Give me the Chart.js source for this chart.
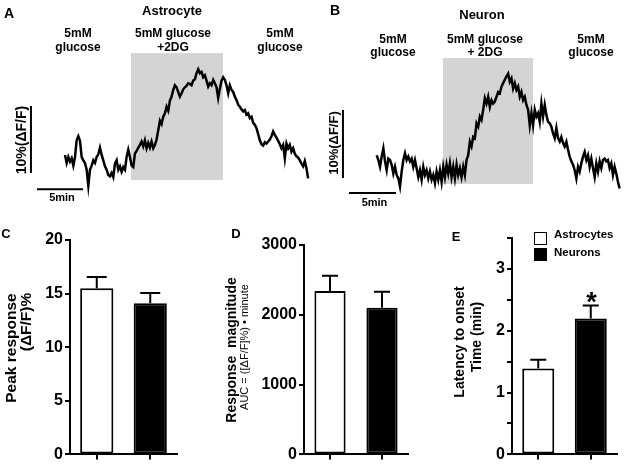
<!DOCTYPE html>
<html>
<head>
<meta charset="utf-8">
<script src="https://cdn.jsdelivr.net/npm/chart.js@4.4.1/dist/chart.umd.min.js"></script>
<style>
body { margin: 0; background: #fff; }
#fig { position: relative; width: 624px; height: 466px; overflow: hidden; background: #fff;
  font-family: "Liberation Sans", Arial, sans-serif; font-weight: bold; color: #000; }
#fig canvas { position: absolute; }
.t { position: absolute; transform: translate(-50%, -50%); white-space: pre; line-height: 1; }
.l { position: absolute; transform: translate(0, -50%); white-space: pre; line-height: 1; }
.v { position: absolute; transform: translate(-50%, -50%) rotate(-90deg); white-space: pre; line-height: 1; }
.box { position: absolute; width: 13px; height: 13px; box-sizing: border-box; border: 1.5px solid #000; }
</style>
</head>
<body>
<div id="fig">
  <canvas id="traceA" width="320" height="200" style="left:0;top:0"></canvas>
  <canvas id="traceB" width="304" height="220" style="left:320px;top:0"></canvas>
  <canvas id="peak" width="200" height="246" style="left:0;top:220px"></canvas>
  <canvas id="auc" width="220" height="246" style="left:200px;top:220px"></canvas>
  <canvas id="latency" width="204" height="246" style="left:420px;top:220px"></canvas>

  <!-- A -->
  <div class="t" style="left:9px;top:13px;font-size:14px">A</div>
  <div class="t" style="left:172px;top:10px;font-size:13px">Astrocyte</div>
  <div class="t" style="left:78px;top:32.5px;font-size:12px">5mM</div>
  <div class="t" style="left:78px;top:46.5px;font-size:12px">glucose</div>
  <div class="t" style="left:173px;top:32.5px;font-size:12px">5mM glucose</div>
  <div class="t" style="left:173px;top:46.5px;font-size:12px">+2DG</div>
  <div class="t" style="left:280px;top:32.5px;font-size:12px">5mM</div>
  <div class="t" style="left:280px;top:46.5px;font-size:12px">glucose</div>
  <div class="v" style="left:21px;top:140px;font-size:14px">10%(ΔF/F)</div>
  <div class="t" style="left:62px;top:197px;font-size:11px">5min</div>

  <!-- B -->
  <div class="t" style="left:335px;top:10px;font-size:14px">B</div>
  <div class="t" style="left:482px;top:14px;font-size:13px">Neuron</div>
  <div class="t" style="left:393px;top:38.5px;font-size:12px">5mM</div>
  <div class="t" style="left:393px;top:52px;font-size:12px">glucose</div>
  <div class="t" style="left:485px;top:38.5px;font-size:12px">5mM glucose</div>
  <div class="t" style="left:485px;top:52px;font-size:12px">+ 2DG</div>
  <div class="t" style="left:591px;top:38.5px;font-size:12px">5mM</div>
  <div class="t" style="left:591px;top:52px;font-size:12px">glucose</div>
  <div class="v" style="left:333px;top:142.5px;font-size:13px">10%(ΔF/F)</div>
  <div class="t" style="left:374.5px;top:202px;font-size:11px">5min</div>

  <!-- C -->
  <div class="t" style="left:6px;top:233px;font-size:13px">C</div>
  <div class="v" style="left:10.5px;top:348px;font-size:15.5px">Peak response</div>
  <div class="v" style="left:26px;top:322px;font-size:15.5px">(ΔF/F)%</div>

  <!-- D -->
  <div class="t" style="left:236px;top:232.5px;font-size:13px">D</div>
  <div class="v" style="left:231px;top:350px;font-size:14px">Response  magnitude</div>
  <div class="v" style="left:244px;top:347px;font-size:11px;font-weight:normal">AUC = ([ΔF/F]%) • minute</div>

  <!-- E -->
  <div class="t" style="left:456px;top:236px;font-size:13px">E</div>
  <div class="v" style="left:459px;top:341.5px;font-size:14px">Latency to onset</div>
  <div class="v" style="left:476px;top:337px;font-size:14px">Time (min)</div>
  <div class="box" style="left:534px;top:232px;background:#fff"></div>
  <div class="box" style="left:534px;top:248px;background:#000"></div>
  <div class="l" style="left:554px;top:235px;font-size:11.5px">Astrocytes</div>
  <div class="l" style="left:554px;top:252.5px;font-size:11.5px">Neurons</div>
  <div class="t" style="left:591.5px;top:302px;font-size:27px">*</div>
</div>

<script>
const FONT = '"Liberation Sans", Arial, sans-serif'

// A / B: ΔF/F traces in %, one sample every *Step minutes
const astroTrace = [
  1.2, 0.0, 0.9, 0.2, 0.7, -0.4, 0.9, 3.4, 4.0, 3.3,
  0.9, 0.4, 0.0, -1.0, -3.4, -1.0, -0.4, 0.4, 0.0, 0.9,
  1.3, 2.3, 1.2, 0.4, -0.5, -1.0, -1.8, -2.0, -1.5, -2.1,
  -0.1, 0.4, -1.0, -0.5, -1.3, -0.6, -1.0, 0.9, 2.0, 0.9,
  -0.4, -0.6, 1.4, 1.8, 2.3, 2.7, 3.2, 2.5, 3.4, 2.2,
  3.0, 2.3, 3.2, 2.2, 2.7, 3.5, 4.9, 6.3, 5.8, 6.9,
  7.4, 8.4, 7.8, 9.3, 9.9, 10.9, 11.6, 11.3, 10.6, 9.9,
  10.4, 11.0,
  11.3, 11.5, 11.9, 11.8, 11.6, 12.3, 12.5, 13.4, 14.0, 13.4,
  13.6, 12.8, 13.1, 12.3, 11.4, 11.9, 11.6, 12.4, 11.9, 11.3,
  9.7, 11.1, 12.3, 12.8, 12.4, 11.6, 10.4, 11.6, 10.9, 10.6,
  9.9, 9.4, 8.7, 8.4, 8.0, 7.7, 7.9, 7.2, 7.4, 6.7,
  6.9, 6.0, 5.7, 5.2, 4.3, 3.4, 2.8, 2.6, 3.1, 2.9,
  3.2, 3.5, 4.0, 4.7, 4.2, 3.8, 3.3, 2.8, 2.2, 2.7,
  0.7, 2.9, 2.2, 2.7, 1.7, 2.2, 1.4, 1.0, 0.8, 0.4,
  -0.1, -0.5, 0.3, -0.8, -2.3
]
const neuronTrace = [
  0.7, 0.0, -1.0, 0.5, 1.7, -0.2, -1.5, 0.2, 0.0, -0.7,
  -2.0, -1.0, -2.2, -2.7, -3.9, -1.7, 0.0, 1.0, 0.0, 0.5,
  -0.2, 0.2, -1.0, 0.0, -1.2, -2.5, -1.5, -2.9, -1.0, -2.2,
  -1.5, -2.7, -1.7, -2.9, -2.2, -3.4, -1.7, -2.9, -1.5, -3.2,
  -1.0, -2.5, -0.7, -2.0, -0.5, -2.5, -1.0, -2.7, -0.7, -2.2,
  -1.2, -2.5, -1.0, -2.2, 0.0, 0.7, 2.7, 2.0, 3.4, 3.2,
  5.4, 4.9, 6.4, 5.9, 7.4, 9.1, 8.3, 9.3, 7.8, 8.8,
  8.3,
  8.6, 9.3, 10.0, 9.8, 10.8, 11.3, 11.8, 12.3, 12.7, 11.5,
  12.0, 10.5, 11.3, 10.3, 10.8, 9.3, 10.0, 8.8, 9.3, 8.1,
  7.4, 5.1, 6.9, 5.1, 7.4, 6.4, 6.9, 5.6, 8.3, 6.4,
  8.1, 6.6, 5.6, 5.4, 4.9, 3.9, 3.2, 4.7, 3.2, 2.7,
  3.4, 2.5, 2.0, 2.7, 1.5, 0.5, -0.2, -0.7, -1.5, -2.7,
  -1.0, -1.7, -0.5, 0.5, 1.2, 0.0, 0.7, -1.0, 0.2, -1.2,
  -2.5, -0.5, -1.7, -0.2, -1.2, 0.0, 0.2, -0.2, 0.0, -1.2,
  -0.5, -2.2, -1.0, -2.0, -3.2, -4.2
]
const astroStep = 0.181
const neuronStep = 0.177
// 2DG window: [start min, end min, low %, high %]
const astroBand = [7.17, 17.17, -2.54, 16.4]
const neuronBand = [7.05, 16.63, -3.53, 15.0]

// C / D / E
const cellTypes = ['Astrocytes', 'Neurons']
const peakMean = [15.5, 14.1]
const peakSem = [1.05, 0.95]
const aucMean = [2340, 2100]
const aucSem = [220, 230]
const latencyMean = [1.39, 2.2]
const latencySem = [0.14, 0.21]
const peakTicks = [0, 5, 10, 15, 20]
const aucTicks = [0, 1000, 2000, 3000]
const latencyTicks = [0, 0.5, 1, 1.5, 2, 2.5, 3, 3.5]


function trace(id, values, step, band, xr, yr, bar) {
  const pts = values.map((v, i) => ({ x: i * step, y: v }))
  const deco = {
    id: 'deco',
    beforeDatasetsDraw(c) {
      const { ctx, scales: { x, y } } = c
      const x0 = x.getPixelForValue(band[0]), x1 = x.getPixelForValue(band[1])
      const y0 = y.getPixelForValue(band[3]), y1 = y.getPixelForValue(band[2])
      ctx.save()
      ctx.fillStyle = '#d4d4d4'
      ctx.fillRect(x0, y0, x1 - x0, y1 - y0)
      ctx.restore()
    },
    afterDatasetsDraw(c) {
      // scale bars: 10 % and 5 min
      const { ctx, scales: { x, y } } = c
      ctx.save()
      ctx.strokeStyle = '#000'
      ctx.lineWidth = 2
      ctx.beginPath()
      ctx.moveTo(x.getPixelForValue(bar.vx), y.getPixelForValue(bar.vy))
      ctx.lineTo(x.getPixelForValue(bar.vx), y.getPixelForValue(bar.vy + 10))
      ctx.moveTo(x.getPixelForValue(bar.hx), y.getPixelForValue(bar.hy))
      ctx.lineTo(x.getPixelForValue(bar.hx + 5), y.getPixelForValue(bar.hy))
      ctx.stroke()
      ctx.restore()
    }
  }
  new Chart(id, {
    type: 'line',
    data: { datasets: [{ data: pts, borderColor: '#000', borderWidth: 2.5, pointRadius: 0, tension: 0, fill: false }] },
    options: {
      responsive: false, animation: false, events: [],
      layout: { padding: 0 },
      plugins: { legend: { display: false }, tooltip: { enabled: false } },
      scales: {
        x: { type: 'linear', display: false, min: xr[0], max: xr[1] },
        y: { display: false, min: yr[0], max: yr[1] }
      }
    },
    plugins: [deco]
  })
}

const errorBars = {
  id: 'errorBars',
  afterDatasetsDraw(c, args, opts) {
    const ds = c.data.datasets[0]
    const meta = c.getDatasetMeta(0)
    const y = c.scales.y
    const ctx = c.ctx
    ctx.save()
    ctx.strokeStyle = '#000'
    ctx.lineWidth = 2
    meta.data.forEach((b, i) => {
      const top = y.getPixelForValue(ds.data[i] + ds.sem[i])
      ctx.beginPath()
      ctx.moveTo(b.x, b.y)
      ctx.lineTo(b.x, top)
      ctx.moveTo(b.x - opts.cap / 2, top)
      ctx.lineTo(b.x + opts.cap / 2, top)
      ctx.stroke()
    })
    ctx.restore()
  }
}

function bars(id, mean, sem, ticks, label, pad, yWidth, barPct, cap) {
  new Chart(id, {
    type: 'bar',
    data: {
      labels: cellTypes,
      datasets: [{
        data: mean, sem: sem,
        backgroundColor: ['#fff', '#000'], borderColor: '#000', borderWidth: 2, borderSkipped: false,
        barPercentage: barPct, categoryPercentage: 1
      }]
    },
    options: {
      responsive: false, animation: false, events: [],
      layout: { padding: { top: pad.top, right: pad.right, left: 0, bottom: 0 } },
      plugins: { legend: { display: false }, tooltip: { enabled: false }, errorBars: { cap: cap } },
      scales: {
        x: {
          grid: { drawOnChartArea: false, tickLength: 5, tickColor: '#000', lineWidth: 2, offset: false },
          border: { color: '#000', width: 2 },
          ticks: { display: false },
          afterFit(s) { s.height = 9 }
        },
        y: {
          min: ticks[0], max: ticks[ticks.length - 1],
          grid: { drawOnChartArea: false, tickLength: 5, tickColor: '#000', lineWidth: 2 },
          border: { color: '#000', width: 2 },
          ticks: { color: '#000', padding: 2, autoSkip: false, font: { family: FONT, size: 16, weight: 'bold' }, callback: label },
          afterBuildTicks(s) { s.ticks = ticks.map(v => ({ value: v })) },
          afterFit(s) { s.width = yWidth }
        }
      }
    },
    plugins: [errorBars]
  })
}

trace('traceA', astroTrace, astroStep, astroBand, [-7.065, 27.717], [-5.522, 24.328],
  { vx: -3.7, vy: -1.5, hx: -3.04, hy: -3.9 })
trace('traceB', neuronTrace, neuronStep, neuronBand, [-6.032, 26.309], [-8.824, 23.529],
  { vx: -3.59, vy: -2.65, hx: -2.95, hy: -4.85 })

bars('peak', peakMean, peakSem, peakTicks, v => String(v), { top: 20, right: 23 }, 70, 0.62, 20)
bars('auc', aucMean, aucSem, aucTicks, v => String(v), { top: 25, right: 12 }, 104, 0.6, 16)
bars('latency', latencyMean, latencySem, latencyTicks, v => Number.isInteger(v) ? String(v) : '', { top: 18, right: 7 }, 92, 0.61, 16)
</script>
</body>
</html>
